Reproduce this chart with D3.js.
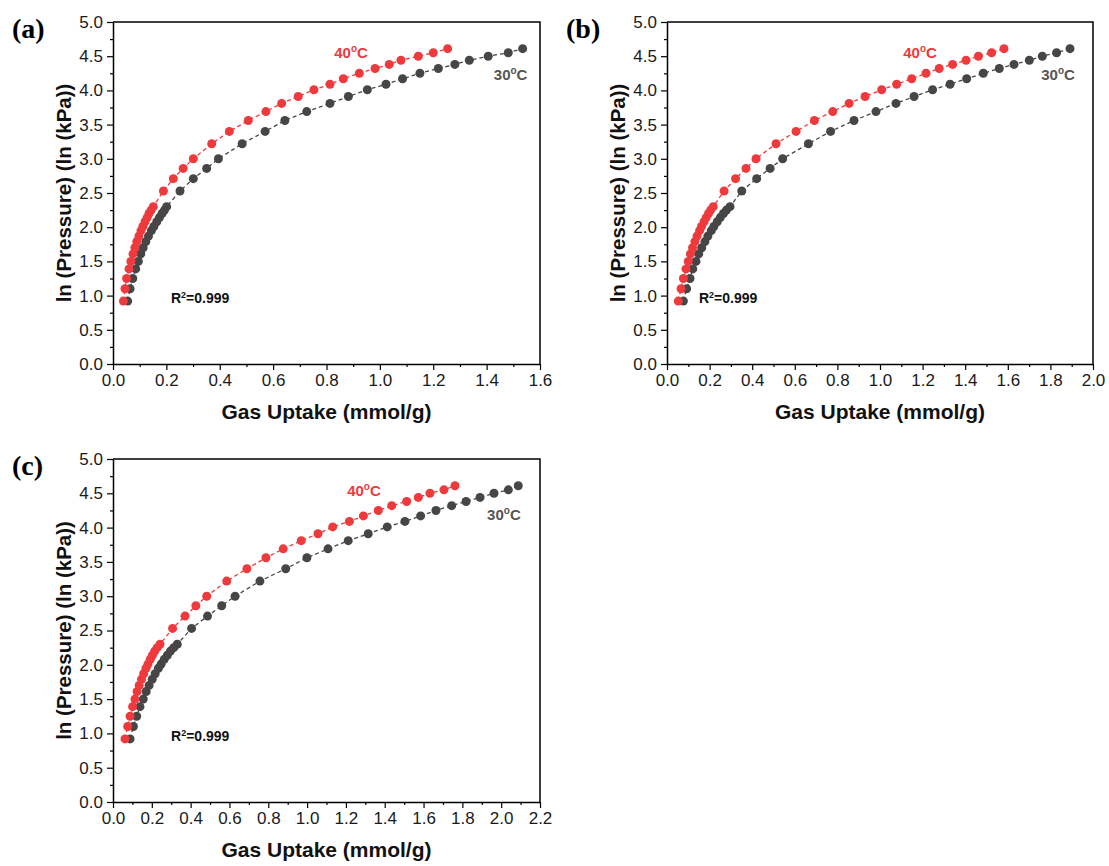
<!DOCTYPE html>
<html>
<head>
<meta charset="utf-8">
<script src="https://cdn.jsdelivr.net/npm/d3@7"></script>
<style>
  body { margin: 0; background: #fff; }
  text { font-family: "Liberation Sans", Arial, sans-serif; }
</style>
</head>
<body>
<script>
// ln(P) of the measured pressure points, shared by every isotherm
const lnPressure = [0.92, 1.10, 1.25, 1.39, 1.50, 1.61, 1.70, 1.79, 1.87, 1.95, 2.01, 2.08,
  2.14, 2.20, 2.25, 2.30, 2.53, 2.71, 2.86, 3.00, 3.22, 3.40, 3.56, 3.69, 3.81, 3.91,
  4.01, 4.09, 4.17, 4.25, 4.32, 4.38, 4.44, 4.50, 4.55, 4.61];

// gas uptake (mmol/g), panel (a)
const uptakeA30 = [0.055, 0.064, 0.074, 0.085, 0.095, 0.104, 0.113, 0.123, 0.133, 0.144, 0.153, 0.164,
  0.174, 0.184, 0.193, 0.201, 0.251, 0.301, 0.351, 0.395, 0.484, 0.570, 0.644, 0.726, 0.813, 0.882,
  0.953, 1.023, 1.085, 1.150, 1.219, 1.281, 1.335, 1.406, 1.481, 1.535];
const uptakeA40 = [0.039, 0.045, 0.051, 0.060, 0.067, 0.075, 0.082, 0.089, 0.097, 0.105, 0.112, 0.120,
  0.128, 0.135, 0.143, 0.151, 0.189, 0.226, 0.263, 0.301, 0.370, 0.436, 0.507, 0.573, 0.632, 0.694,
  0.753, 0.813, 0.863, 0.923, 0.982, 1.035, 1.079, 1.144, 1.200, 1.254];

// panel (b)
const uptakeB30 = [0.077, 0.092, 0.108, 0.121, 0.136, 0.149, 0.163, 0.178, 0.192, 0.208, 0.220, 0.236,
  0.250, 0.265, 0.279, 0.296, 0.351, 0.421, 0.484, 0.543, 0.664, 0.768, 0.878, 0.981, 1.075, 1.160,
  1.247, 1.329, 1.407, 1.485, 1.560, 1.629, 1.701, 1.762, 1.829, 1.892];
const uptakeB40 = [0.053, 0.066, 0.077, 0.089, 0.100, 0.110, 0.120, 0.131, 0.141, 0.153, 0.162, 0.174,
  0.184, 0.195, 0.205, 0.217, 0.268, 0.322, 0.371, 0.418, 0.512, 0.606, 0.692, 0.778, 0.855, 0.930,
  1.008, 1.078, 1.149, 1.216, 1.278, 1.341, 1.404, 1.462, 1.524, 1.582];

// panel (c)
const uptakeC30 = [0.088, 0.105, 0.122, 0.139, 0.156, 0.171, 0.186, 0.202, 0.217, 0.234, 0.248, 0.264,
  0.280, 0.296, 0.313, 0.331, 0.405, 0.487, 0.560, 0.629, 0.757, 0.890, 0.999, 1.108, 1.212, 1.315,
  1.413, 1.504, 1.585, 1.664, 1.745, 1.819, 1.891, 1.963, 2.037, 2.088];
const uptakeC40 = [0.062, 0.076, 0.088, 0.101, 0.113, 0.124, 0.135, 0.147, 0.158, 0.170, 0.180, 0.192,
  0.203, 0.215, 0.228, 0.242, 0.307, 0.371, 0.427, 0.483, 0.586, 0.690, 0.788, 0.877, 0.970, 1.056,
  1.132, 1.218, 1.290, 1.367, 1.436, 1.513, 1.573, 1.633, 1.705, 1.762];

// tick labels
const yTicks = [0, 0.5, 1.0, 1.5, 2.0, 2.5, 3.0, 3.5, 4.0, 4.5, 5.0];
const xTicksA = [0, 0.2, 0.4, 0.6, 0.8, 1.0, 1.2, 1.4, 1.6];
const xTicksB = [0, 0.2, 0.4, 0.6, 0.8, 1.0, 1.2, 1.4, 1.6, 1.8, 2.0];
const xTicksC = [0, 0.2, 0.4, 0.6, 0.8, 1.0, 1.2, 1.4, 1.6, 1.8, 2.0, 2.2];

const red = '#ee3a3d';
const gray = '#464646';

const svg = d3.select('body').append('svg')
    .attr('width', 1109)
    .attr('height', 866);

const panels = [
  { tag: '(a)', left: 113, top: 22, width: 427, height: 342, xTicks: xTicksA,
    s30: uptakeA30, s40: uptakeA40, lbl40: [0.892, 4.47], lbl30: [1.49, 4.15], r2: [0.217, 0.89] },
  { tag: '(b)', left: 667, top: 22, width: 426, height: 342, xTicks: xTicksB,
    s30: uptakeB30, s40: uptakeB40, lbl40: [1.188, 4.47], lbl30: [1.836, 4.15], r2: [0.150, 0.89] },
  { tag: '(c)', left: 113, top: 459, width: 427, height: 343, xTicks: xTicksC,
    s30: uptakeC30, s40: uptakeC40, lbl40: [1.293, 4.46], lbl30: [2.014, 4.11], r2: [0.299, 0.89] }
];

function midpoints(arr) {
  return d3.pairs(arr).map(p => (p[0] + p[1]) / 2);
}

function drawPanel(p) {
  const g = svg.append('g').attr('transform', `translate(${p.left}, ${p.top})`);

  const x = d3.scaleLinear().domain([0, p.xTicks[p.xTicks.length - 1]]).range([0, p.width]);
  const y = d3.scaleLinear().domain([0, 5]).range([p.height, 0]);

  // frame (top and right)
  g.append('path')
    .attr('d', `M0,0H${p.width}V${p.height}`)
    .attr('fill', 'none')
    .attr('stroke', '#000')
    .attr('stroke-width', 1.5);

  // x axis, major + minor
  const gx = g.append('g').attr('transform', `translate(0, ${p.height})`)
    .call(d3.axisBottom(x).tickValues(p.xTicks).tickSize(6).tickSizeOuter(0)
      .tickPadding(4).tickFormat(d3.format('.1f')));
  g.append('g').attr('transform', `translate(0, ${p.height})`)
    .call(d3.axisBottom(x).tickValues(midpoints(p.xTicks)).tickSize(3).tickFormat(''))
    .select('.domain').remove();

  // y axis, major + minor
  const gy = g.append('g')
    .call(d3.axisLeft(y).tickValues(yTicks).tickSize(6).tickSizeOuter(0)
      .tickPadding(4).tickFormat(d3.format('.1f')));
  g.append('g')
    .call(d3.axisLeft(y).tickValues(midpoints(yTicks)).tickSize(3).tickFormat(''))
    .select('.domain').remove();

  g.selectAll('.domain').attr('stroke-width', 1.5);
  g.selectAll('.tick line').attr('stroke-width', 1.2);
  [gx, gy].forEach(a => a.selectAll('.tick text')
    .attr('font-size', 17)
    .attr('fill', '#1a1a1a')
    .style('font-family', '"Liberation Sans", Arial, sans-serif'));

  // axis titles
  g.append('text')
    .attr('x', p.width / 2)
    .attr('y', p.height + 55)
    .attr('text-anchor', 'middle')
    .attr('font-size', 21)
    .attr('font-weight', 'bold')
    .attr('fill', '#111')
    .text('Gas Uptake (mmol/g)');

  g.append('text')
    .attr('transform', `translate(-42, ${p.height / 2}) rotate(-90)`)
    .attr('text-anchor', 'middle')
    .attr('font-size', 20.5)
    .attr('font-weight', 'bold')
    .attr('fill', '#111')
    .text('ln (Pressure) (ln (kPa))');

  // panel tag
  svg.append('text')
    .attr('x', p.left - 101)
    .attr('y', p.top + 16)
    .attr('font-size', 28)
    .attr('font-weight', 'bold')
    .style('font-family', '"Liberation Serif", "Times New Roman", serif')
    .attr('fill', '#000')
    .text(p.tag);

  // isotherms: dashed line + dots
  const series = [
    { vals: p.s30, color: gray },
    { vals: p.s40, color: red }
  ];
  const line = d3.line().x(d => x(d[0])).y(d => y(d[1]));

  series.forEach(s => {
    const pts = s.vals.map((v, i) => [v, lnPressure[i]]);
    g.append('path')
      .datum(pts)
      .attr('d', line)
      .attr('fill', 'none')
      .attr('stroke', s.color)
      .attr('stroke-width', 1.3)
      .attr('stroke-dasharray', '4,3');
    g.selectAll(null)
      .data(pts)
      .enter()
      .append('circle')
      .attr('cx', d => x(d[0]))
      .attr('cy', d => y(d[1]))
      .attr('r', 4.5)
      .attr('fill', s.color);
  });

  // temperature labels
  function tempLabel(pos, txt, color) {
    const t = g.append('text')
      .attr('x', x(pos[0]))
      .attr('y', y(pos[1]))
      .attr('text-anchor', 'middle')
      .attr('font-size', 15)
      .attr('font-weight', 'bold')
      .attr('fill', color);
    t.append('tspan').text(txt);
    t.append('tspan').attr('dy', -6).attr('font-size', 10).text('o');
    t.append('tspan').attr('dy', 6).text('C');
  }
  tempLabel(p.lbl40, '40', red);
  tempLabel(p.lbl30, '30', '#555');

  // fit quality
  const r = g.append('text')
    .attr('x', x(p.r2[0]))
    .attr('y', y(p.r2[1]))
    .attr('font-size', 14)
    .attr('font-weight', 'bold')
    .attr('fill', '#111');
  r.append('tspan').text('R');
  r.append('tspan').attr('dy', -5).attr('font-size', 9).text('2');
  r.append('tspan').attr('dy', 5).text('=0.999');
}

panels.forEach(drawPanel);
</script>
</body>
</html>
